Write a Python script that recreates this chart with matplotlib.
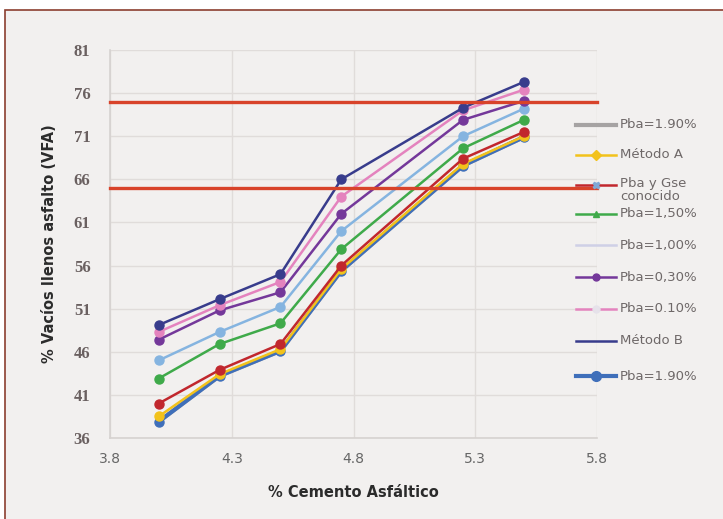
import matplotlib.pyplot as plt
from matplotlib.lines import Line2D
from matplotlib.patches import Rectangle

# % cemento asfaltico
cemento = [4.0, 4.25, 4.5, 4.75, 5.25, 5.5]

# VFA por metodo
metodo_b = [49.1, 52.1, 55.0, 66.0, 74.3, 77.3]
pba_010 = [48.3, 51.4, 54.1, 64.0, 74.0, 76.4]
pba_030 = [47.4, 50.8, 52.9, 62.0, 72.9, 75.1]
pba_100 = [45.0, 48.3, 51.2, 60.0, 71.0, 74.2]
pba_150 = [42.9, 46.9, 49.3, 57.9, 69.6, 72.9]
pba_gse = [40.0, 43.9, 46.9, 56.0, 68.4, 71.5]
metodo_a = [38.5, 43.4, 46.3, 55.6, 67.8, 71.0]
pba_190 = [37.9, 43.2, 46.1, 55.4, 67.6, 70.9]

# limites VFA
vfa_min = 65
vfa_max = 75

xticks = [3.8, 4.3, 4.8, 5.3, 5.8]
yticks = [36, 41, 46, 51, 56, 61, 66, 71, 76, 81]

bg = '#f2f0ef'
fig = plt.figure(figsize=(7.23, 5.19), dpi=100)
fig.patch.set_facecolor('white')
fig.add_artist(Rectangle((5 / 723, -0.01), 1.0, 1 - 10 / 519 + 0.01,
                         transform=fig.transFigure, facecolor=bg,
                         edgecolor='#8b3e2f', lw=1.2, zorder=-10))

ax = fig.add_axes([110 / 723, 81 / 519, 487 / 723, 388 / 519])
ax.set_facecolor(bg)

series = [
    # etiqueta, valores, color, ancho, marcador, tamano, marcador leyenda, color marcador leyenda, zorder
    ('Pba=1.90%', pba_190, '#a6a3a3', 3.0, None, 0, None, None, 2),
    ('Método A', metodo_a, '#f2c21b', 1.8, 'o', 6.5, 'D', '#f2c21b', 4),
    ('Pba y Gse\nconocido', pba_gse, '#c1272d', 1.8, 'o', 6.5, 'X', '#7fa9d6', 5),
    ('Pba=1,50%', pba_150, '#3faa4a', 1.8, 'o', 6.5, '^', '#3faa4a', 5),
    ('Pba=1,00%', pba_100, '#85b4e0', 1.8, 'o', 6.5, None, None, 5),
    ('Pba=0,30%', pba_030, '#74389a', 1.8, 'o', 6.5, 'o', '#74389a', 5),
    ('Pba=0.10%', pba_010, '#e483be', 1.8, 'o', 6.5, 'o', '#e6e2ea', 5),
    ('Método B', metodo_b, '#383c8c', 1.8, 'o', 6.5, None, None, 6),
    ('Pba=1.90%', pba_190, '#3f6fba', 3.0, 'o', 6.5, 'o', '#3f6fba', 3),
]
legend_colors = {4: '#cfd0e6'}

for lab, vals, c, lw, m, ms, _, _, z in series:
    if m is None:
        ax.plot(cemento, vals, color=c, lw=lw, zorder=z)
    else:
        ax.plot(cemento, vals, color=c, lw=lw, marker=m, ms=ms, zorder=z)

ax.axhline(vfa_max, color='#d8432a', lw=2.4, zorder=7, clip_on=False)
ax.axhline(vfa_min, color='#d8432a', lw=2.4, zorder=7, clip_on=False)

ax.set_xlim(3.8, 5.8)
ax.set_ylim(36, 81)
ax.set_xticks(xticks)
ax.set_yticks(yticks)
ax.set_xticklabels([str(t) for t in xticks], fontsize=10, color='#666666')
ax.set_yticklabels([str(t) for t in yticks], fontsize=12, color='#6a6060',
                   family='Liberation Serif', fontweight='bold')
ax.tick_params(axis='x', length=0, pad=10)
ax.tick_params(axis='y', length=0, pad=14)
ax.grid(True, color='#e0dcda', lw=1.0)
ax.set_axisbelow(True)
for s in ['top', 'right']:
    ax.spines[s].set_visible(False)
for s in ['left', 'bottom']:
    ax.spines[s].set_color('#d6d2d0')
    ax.spines[s].set_linewidth(1.2)

ax.set_xlabel('% Cemento Asfáltico', fontsize=10.5, fontweight='bold',
              color='#2b2b2b', labelpad=14)
ax.set_ylabel('% Vacíos llenos asfalto (VFA)', fontsize=10.5, fontweight='bold',
              color='#2b2b2b', labelpad=12)

# leyenda dibujada a mano
ys = [125, 155, 185, 214, 245, 277, 309, 341, 376]
for i, (lab, vals, c, lw, m, ms, lm, lmc, z) in enumerate(series):
    y = 1 - ys[i] / 519
    fig.add_artist(Line2D([576 / 723, 616 / 723], [y, y], transform=fig.transFigure,
                          color=legend_colors.get(i, c), lw=lw))
    if lm is not None:
        fig.add_artist(Line2D([596 / 723], [y], transform=fig.transFigure,
                              marker=lm, color=lmc, ms=7 if i == 8 else 5, lw=0))
    if '\n' in lab:
        fig.text(620 / 723, y + 8 / 519, lab, fontsize=9.5, color='#6e6868',
                 va='top', linespacing=0.95)
    else:
        fig.text(620 / 723, y, lab, fontsize=9.5, color='#6e6868', va='center')

fig.savefig('out.png', dpi=100)
